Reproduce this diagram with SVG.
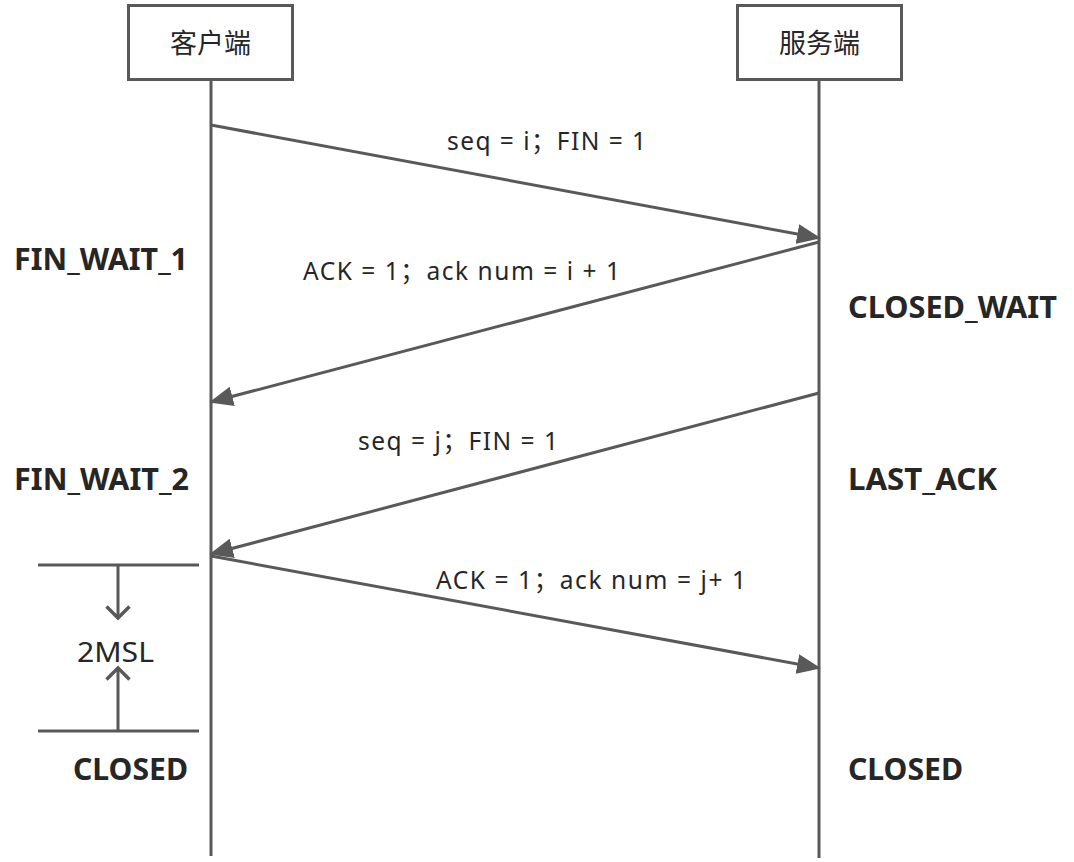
<svg xmlns="http://www.w3.org/2000/svg" width="1074" height="862" viewBox="0 0 1074 862">
<style>
.box{fill:#fff;stroke:#595959;stroke-width:3}
.ln{stroke:#595959;stroke-width:3;fill:none}
.lbl{font-family:"Noto Sans","Noto Sans CJK SC",sans-serif;font-size:24.5px;fill:#262626}
.st{font-family:"Noto Sans","Noto Sans CJK SC",sans-serif;font-size:30px;font-weight:bold;fill:#262626}
.cjk{font-family:"Noto Sans CJK SC",sans-serif;font-size:27px;fill:#262626}
</style>
<defs>
<marker id="ah2" markerWidth="24" markerHeight="20" refX="22" refY="10" orient="auto" markerUnits="userSpaceOnUse" viewBox="0 0 24 20">
<path d="M0,0 L24,10 L0,20 Z" fill="#595959"/>
</marker>
<marker id="op" markerWidth="16" markerHeight="26" refX="13" refY="13" orient="auto" markerUnits="userSpaceOnUse" viewBox="0 0 16 26">
<path d="M1.5,1.5 L13,13 L1.5,24.5" fill="none" stroke="#595959" stroke-width="3.5"/>
</marker>
</defs>
<g id="client">
<rect class="box" x="128.5" y="5.5" width="164" height="74"/>
<text class="cjk" x="210.5" y="53" text-anchor="middle">客户端</text>
</g>
<g id="server">
<rect class="box" x="737.5" y="5.5" width="164" height="74"/>
<text class="cjk" x="819.5" y="53" text-anchor="middle">服务端</text>
</g>
<g id="connectors">
<line class="ln" x1="211" y1="80" x2="211" y2="856"/>
<line class="ln" x1="819" y1="80" x2="819" y2="858"/>
<line class="ln" x1="211" y1="125" x2="819" y2="238" marker-end="url(#ah2)"/>
<line class="ln" x1="819" y1="242" x2="211" y2="402" marker-end="url(#ah2)"/>
<line class="ln" x1="819" y1="393" x2="211" y2="554" marker-end="url(#ah2)"/>
<line class="ln" x1="211" y1="556" x2="819" y2="668" marker-end="url(#ah2)"/>
<line class="ln" x1="38" y1="565" x2="199" y2="565"/>
<line class="ln" x1="38" y1="731" x2="199" y2="731"/>
<line class="ln" x1="118" y1="565" x2="118" y2="618" marker-end="url(#op)"/>
<line class="ln" x1="118" y1="731" x2="118" y2="668" marker-end="url(#op)"/>
</g>
<g id="labels">
<text class="lbl" x="447" y="150" textLength="199" lengthAdjust="spacing">seq = i；FIN = 1</text>
<text class="lbl" x="303" y="280" textLength="317" lengthAdjust="spacing">ACK = 1；ack num = i + 1</text>
<text class="lbl" x="358" y="450" textLength="200" lengthAdjust="spacing">seq = j；FIN = 1</text>
<text class="lbl" x="436" y="589" textLength="310" lengthAdjust="spacing">ACK = 1；ack num = j+ 1</text>
<text class="lbl" x="77" y="662" textLength="77" lengthAdjust="spacingAndGlyphs" style="font-size:28px">2MSL</text>
</g>
<g id="states">
<text class="st" x="14" y="270" textLength="174" lengthAdjust="spacingAndGlyphs">FIN_WAIT_1</text>
<text class="st" x="848" y="318" textLength="209" lengthAdjust="spacingAndGlyphs">CLOSED_WAIT</text>
<text class="st" x="14" y="490" textLength="175" lengthAdjust="spacingAndGlyphs">FIN_WAIT_2</text>
<text class="st" x="848" y="490" textLength="149" lengthAdjust="spacingAndGlyphs">LAST_ACK</text>
<text class="st" x="73" y="780" textLength="115" lengthAdjust="spacingAndGlyphs">CLOSED</text>
<text class="st" x="848" y="780" textLength="115" lengthAdjust="spacingAndGlyphs">CLOSED</text>
</g>
</svg>
